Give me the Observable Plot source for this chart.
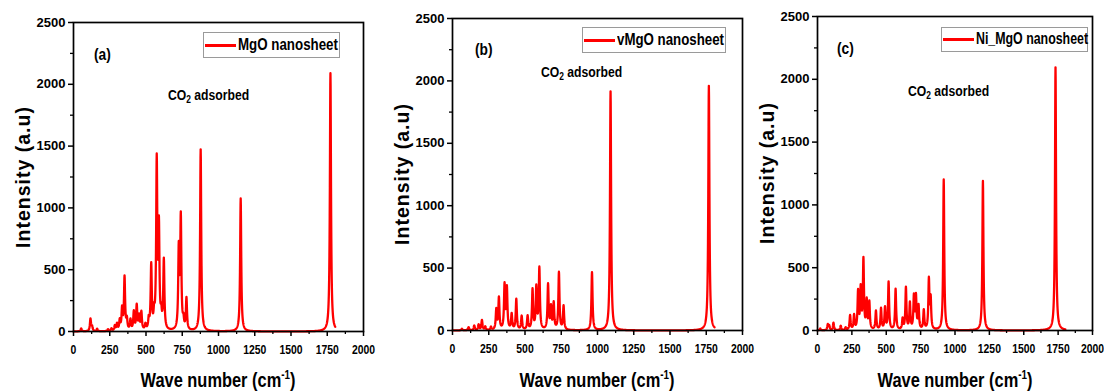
<!DOCTYPE html>
<html><head><meta charset="utf-8">
<script src="https://cdn.jsdelivr.net/npm/d3@7"></script>
<script src="https://cdn.jsdelivr.net/npm/@observablehq/plot@0.6"></script>
<style>
body{margin:0;background:#fff}
#wrap{position:relative;width:1104px;height:391px;overflow:hidden;background:#fff;font-family:"Liberation Sans",Arial,sans-serif;font-weight:bold;color:#000}
.abs{position:absolute;white-space:nowrap;line-height:1}
.ylab{font-size:19.5px;letter-spacing:1px;width:220px;text-align:center;transform:translate(-50%,-50%) rotate(-90deg)}
.xlab{font-size:20px;width:300px;text-align:center;transform:translateX(-50%) scaleX(0.82);transform-origin:50% 50%}
.xlab sup{font-size:12px;line-height:0;vertical-align:8px}
.co2{font-size:14.5px;transform:scaleX(0.84);transform-origin:0 50%}
.co2 sub{font-size:10px;line-height:0;vertical-align:-3px}
.plab{font-size:16px;transform:scaleX(0.86);transform-origin:0 50%}
.leg{border:1px solid #9a9a9a;background:#fff;box-sizing:border-box}
.leg .ln{position:absolute;left:1px;width:31px;height:3px;background:#ff0000}
.leg .tx{position:absolute;left:34px;font-size:16px;line-height:1;transform-origin:0 50%;white-space:nowrap}
.panel{position:absolute;top:0}
</style></head>
<body>
<div id="wrap"></div>
<script>
// ---- data ----
const panelTags = ["(a)", "(b)", "(c)"];
const seriesNames = ["MgO nanosheet", "vMgO nanosheet", "Ni_MgO nanosheet"];
const annotation = "CO2 adsorbed";
const xTicks = [0, 250, 500, 750, 1000, 1250, 1500, 1750, 2000];
const yTicks = [0, 500, 1000, 1500, 2000, 2500];

// peak positions (cm-1) and peak intensities (a.u)
const mgoPeakPos = [53,117,128,163,238,262,285,300,319,335,352,368,393,416,436,452,468,496,519,536,556,574,589,605,623,726,740,758,779,877,1153,1772];
const mgoPeakInt = [24,100,35,20,15,20,40,55,80,170,430,85,85,150,200,110,145,45,80,520,110,1350,800,110,560,640,900,70,255,1470,1075,2090];

const vmgoPeakPos = [65,111,150,180,203,226,265,302,320,359,375,408,440,477,518,552,578,599,659,679,698,734,766,962,1090,1768];
const vmgoPeakInt = [13,25,38,45,80,28,25,160,255,355,330,125,245,110,110,320,335,490,360,175,210,460,190,465,1915,1960];

const nimgoPeakPos = [20,75,85,116,169,205,237,266,295,314,334,358,377,425,462,491,517,568,619,643,672,701,716,735,773,810,823,918,1203,1731];
const nimgoPeakInt = [15,45,35,60,35,20,115,115,300,320,555,225,215,150,170,175,380,325,85,335,210,260,260,185,155,395,240,1200,1190,2095];

const spectrumEnd = [1805, 1807, 1802];
const halfWidth = 4.5; // Lorentzian half width of each computed band (cm-1)

// ---- build spectra from peak lists (Lorentzian band shape) ----
function spectrum(pos, hts, xEnd) {
  const pts = [];
  for (let x = 0; x <= xEnd; x += 1) {
    let y = 0;
    for (let k = 0; k < pos.length; k++) {
      const d = x - pos[k];
      y += hts[k] * halfWidth * halfWidth / (d * d + halfWidth * halfWidth);
    }
    pts.push({x, y});
  }
  return pts;
}
const peakSets = [[mgoPeakPos, mgoPeakInt], [vmgoPeakPos, vmgoPeakInt], [nimgoPeakPos, nimgoPeakInt]];

// ---- layout ----
const boxes = [
  {left: 0,   width: 370, ml: 73, mr: 7,  mt: 22, mb: 60},
  {left: 375, width: 370, ml: 77, mr: 3,  mt: 18, mb: 61},
  {left: 740, width: 364, ml: 77, mr: 12, mt: 16, mb: 61}
];
const legends = [
  {left: 203, top: 32, w: 137, h: 26, tw: 100},
  {left: 582, top: 27, w: 144, h: 26, tw: 107},
  {left: 941, top: 27, w: 147, h: 25, tw: 112}
];
const tagPos = [{left: 94, top: 46.5}, {left: 475, top: 41.5}, {left: 837, top: 40.5}];
const coPos = [{left: 168, top: 88}, {left: 541, top: 65}, {left: 908, top: 84}];

const wrap = document.getElementById("wrap");
const fontFam = '"Liberation Sans",Arial,sans-serif';

boxes.forEach((b, i) => {
  const data = spectrum(peakSets[i][0], peakSets[i][1], spectrumEnd[i]);
  const minorX = xTicks.slice(0, -1).map(t => t + 125);
  const minorY = yTicks.slice(0, -1).map(t => t + 250);
  const svg = Plot.plot({
    width: b.width, height: 391,
    marginLeft: b.ml, marginRight: b.mr, marginTop: b.mt, marginBottom: b.mb,
    x: {domain: [0, 2000]},
    y: {domain: [0, 2500]},
    style: {background: "transparent", overflow: "visible", color: "#000"},
    marks: [
      Plot.line(data, {x: "x", y: "y", stroke: "#ff0000", strokeWidth: 2.3}),
      Plot.axisX({ticks: xTicks, tickSize: 5, tickPadding: 8, strokeWidth: 1.5, tickFormat: d => String(d), label: null,
                  fontSize: 13, fontWeight: "bold", fontFamily: fontFam, fill: "#000"}),
      Plot.axisX({ticks: minorX, tickSize: 3, strokeWidth: 1.3, text: null, label: null}),
      Plot.axisY({ticks: yTicks, tickSize: 5, tickPadding: 3, strokeWidth: 1.5, tickFormat: d => String(d), label: null,
                  fontSize: 13, fontWeight: "bold", fontFamily: fontFam, fill: "#000"}),
      Plot.axisY({ticks: minorY, tickSize: 3, strokeWidth: 1.3, text: null, label: null}),
      Plot.frame({stroke: "#000", strokeWidth: 1.7})
    ]
  });
  svg.classList.add("panel");
  svg.style.left = b.left + "px";
  svg.style.maxWidth = "none";
  // condensed look of the x tick labels, as in the reference
  svg.querySelectorAll('g[aria-label="x-axis tick label"] text').forEach(t => {
    const tr = t.getAttribute("transform");
    if (tr) {
      t.setAttribute("transform", tr + " scale(0.8,1)");
    } else {
      const x = +(t.getAttribute("x") || 0), y = +(t.getAttribute("y") || 0);
      t.removeAttribute("x"); t.removeAttribute("y");
      t.setAttribute("transform", `translate(${x},${y}) scale(0.8,1)`);
    }
  });
  wrap.appendChild(svg);

  const x0 = b.left + b.ml, x1 = b.left + b.width - b.mr;
  const y0 = b.mt, y1 = 391 - b.mb;

  const yl = document.createElement("div");
  yl.className = "abs ylab";
  yl.textContent = "Intensity (a.u)";
  yl.style.left = (x0 - 49) + "px";
  yl.style.top = ((y0 + y1) / 2) + "px";
  wrap.appendChild(yl);

  const xl = document.createElement("div");
  xl.className = "abs xlab";
  xl.innerHTML = "Wave number (cm<sup>-1</sup>)";
  xl.style.left = ((x0 + x1) / 2) + "px";
  xl.style.top = "370px";
  wrap.appendChild(xl);

  const pl = document.createElement("div");
  pl.className = "abs plab";
  pl.textContent = panelTags[i];
  pl.style.left = tagPos[i].left + "px";
  pl.style.top = tagPos[i].top + "px";
  wrap.appendChild(pl);

  const co = document.createElement("div");
  co.className = "abs co2";
  co.innerHTML = annotation.replace("2", "<sub>2</sub>");
  co.style.left = coPos[i].left + "px";
  co.style.top = coPos[i].top + "px";
  wrap.appendChild(co);

  const L = legends[i];
  const lg = document.createElement("div");
  lg.className = "abs leg";
  lg.style.left = L.left + "px";
  lg.style.top = L.top + "px";
  lg.style.width = L.w + "px";
  lg.style.height = L.h + "px";
  const ln = document.createElement("span");
  ln.className = "ln";
  ln.style.top = ((L.h - 2) / 2 - 1.5) + "px";
  const tx = document.createElement("span");
  tx.className = "tx";
  tx.textContent = seriesNames[i];
  tx.style.top = ((L.h - 2) / 2 - 8.5) + "px";
  lg.appendChild(ln); lg.appendChild(tx);
  wrap.appendChild(lg);
  const w = tx.getBoundingClientRect().width;
  tx.style.transform = `scaleX(${(L.tw / w).toFixed(3)})`;
});
</script>
</body></html>
